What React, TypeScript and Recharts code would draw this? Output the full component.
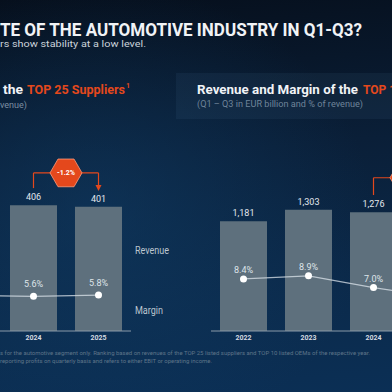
import React from 'react';
import { ComposedChart, Bar, Line, XAxis, YAxis, LabelList, ReferenceLine } from 'recharts';

// TOP 25 suppliers (2023 sits outside the visible crop)
const supplierYears = ['2023', '2024', '2025'];
const supplierRevenue = [null, 406, 401];
const supplierMargin = [5.7, 5.6, 5.8];

// TOP 10 OEMs (2025 sits outside the visible crop)
const oemYears = ['2022', '2023', '2024', '2025'];
const oemRevenue = [1181, 1303, 1276, null];
const oemMargin = [8.4, 8.9, 7.0, 5.4];

const ORANGE = '#e4481c';
const BAR = '#5e707d';
const FONT = 'Roboto, "Noto Sans", sans-serif';

const supplierData = supplierYears.map((year, i) => ({ year, revenue: supplierRevenue[i], margin: supplierMargin[i] }));
const oemData = oemYears.map((year, i) => ({ year, revenue: oemRevenue[i], margin: oemMargin[i] }));

const fmtRev = (v: any) => (v == null ? '' : Number(v).toLocaleString('en-US'));
const fmtPct = (v: any) => (v == null ? '' : `${Number(v).toFixed(1)}%`);

const supplierChange = `${(((supplierRevenue[2] as number) / (supplierRevenue[1] as number) - 1) * 100).toFixed(1)}%`;

const hexPoints = (cx: number, cy: number, r: number) => {
    const h = (r * Math.sqrt(3)) / 2;
    return [
        [cx - r, cy],
        [cx - r / 2, cy - h],
        [cx + r / 2, cy - h],
        [cx + r, cy],
        [cx + r / 2, cy + h],
        [cx - r / 2, cy + h],
    ]
        .map((p) => p.join(','))
        .join(' ');
};

// horizontal bracket line with the hexagon badge in its middle
const bracketTop = (text: string) => (p: any) => {
    const cx = (p.x1 + p.x2) / 2;
    const cy = p.y1;
    return (
        <g>
            <line x1={p.x1} y1={p.y1} x2={p.x2} y2={p.y2} stroke={ORANGE} strokeWidth={1.2} />
            <polygon points={hexPoints(cx, cy, 16)} fill={ORANGE} stroke="#ff9b78" strokeWidth={0.8} />
            {text && (
                <text x={cx} y={cy + 2.5} textAnchor="middle" fontSize={7} fontWeight={700} fill="#fff" fontFamily={FONT}>
                    {text}
                </text>
            )}
        </g>
    );
};

const arrowDown = (p: any) => (
    <g>
        <line x1={p.x1} y1={p.y1} x2={p.x2} y2={p.y2 - 4} stroke={ORANGE} strokeWidth={1.2} />
        <polygon points={`${p.x2 - 3},${p.y2 - 5} ${p.x2 + 3},${p.y2 - 5} ${p.x2},${p.y2 + 1}`} fill={ORANGE} />
    </g>
);

const plainLine = (p: any) => <line x1={p.x1} y1={p.y1} x2={p.x2} y2={p.y2} stroke={ORANGE} strokeWidth={1.2} />;

const axisProps = {
    dataKey: 'year',
    interval: 0 as const,
    tickLine: false,
    tickSize: 0,
    tickMargin: 4,
    height: 20,
    axisLine: { stroke: '#8a9aa9', strokeWidth: 1 },
    tick: { fill: '#d3dae1', fontSize: 7, fontWeight: 700, fontFamily: FONT },
};

const PairChart = ({ data, width, revMax, pctOffset, children }: any) => (
    <ComposedChart width={width} height={206} data={data} margin={{ top: 0, right: 0, bottom: 0, left: 0 }}>
        <XAxis {...axisProps} />
        <YAxis yAxisId="rev" hide domain={[0, revMax]} />
        <YAxis yAxisId="mar" hide domain={[0, 30]} orientation="right" />
        <Bar yAxisId="rev" dataKey="revenue" fill={BAR} barSize={47} isAnimationActive={false}>
            <LabelList dataKey="revenue" position="top" offset={5} formatter={fmtRev} fill="#e3e8ee" fontSize={9} fontFamily={FONT} />
        </Bar>
        <Line
            yAxisId="mar"
            dataKey="margin"
            type="linear"
            stroke="rgba(220,228,235,0.75)"
            strokeWidth={1.2}
            dot={{ r: 3.5, fill: '#ffffff', stroke: 'none' }}
            activeDot={false}
            isAnimationActive={false}
        >
            <LabelList dataKey="margin" position="top" offset={pctOffset} formatter={fmtPct} fill="#dfe5ea" fontSize={9} fontFamily={FONT} />
        </Line>
        {children}
    </ComposedChart>
);

const App = () => {
    return (
        <div
            style={{
                position: 'absolute',
                left: 0,
                top: 0,
                width: 392,
                height: 392,
                overflow: 'hidden',
                background:
                    'radial-gradient(ellipse 70% 60% at 25% 55%, rgba(16,62,104,0.55) 0%, rgba(16,62,104,0) 100%), linear-gradient(175deg, #060f1c 0%, #0a1f38 40%, #0b2a4b 75%, #0b2f55 100%)',
            }}
        >
            <svg width={392} height={392} style={{ position: 'absolute', left: 0, top: 0 }} fontFamily={FONT}>
                <rect x={176} y={73} width={216} height={46} fill="rgba(120,165,210,0.07)" />
                <text x={0} y={36} fontSize={18.5} fontWeight={700} fill="#f1f3f6" textLength={362} lengthAdjust="spacingAndGlyphs">
                    TE OF THE AUTOMOTIVE INDUSTRY IN Q1-Q3?
                </text>
                <text x={0} y={47} fontSize={9.5} fill="#cbd3db" textLength={146} lengthAdjust="spacingAndGlyphs">
                    rs show stability at a low level.
                </text>

                <text x={3} y={94} fontSize={12} fontWeight={700} fill="#f1f3f6" textLength={20} lengthAdjust="spacingAndGlyphs">
                    the
                </text>
                <text x={27} y={94} fontSize={12} fontWeight={700} fill={ORANGE} textLength={98} lengthAdjust="spacingAndGlyphs">
                    TOP 25 Suppliers
                </text>
                <text x={126} y={88} fontSize={7} fontWeight={700} fill={ORANGE}>
                    1
                </text>
                <text x={0} y={107.5} fontSize={9} fill="#7c8fa2" textLength={27} lengthAdjust="spacingAndGlyphs">
                    venue)
                </text>

                <text x={197} y={94} fontSize={12} fontWeight={700} fill="#f1f3f6" textLength={161} lengthAdjust="spacingAndGlyphs">
                    Revenue and Margin of the
                </text>
                <text x={363} y={94} fontSize={12} fontWeight={700} fill={ORANGE}>
                    TOP 10 OEMs
                </text>
                <text x={197} y={107} fontSize={9} fill="#6f849a" textLength={166} lengthAdjust="spacingAndGlyphs">
                    (Q1 – Q3 in EUR billion and % of revenue)
                </text>

                <text x={135} y={253.5} fontSize={10} fill="#bcc6cf" textLength={34} lengthAdjust="spacingAndGlyphs">
                    Revenue
                </text>
                <text x={135} y={314} fontSize={10} fill="#bcc6cf" textLength={28} lengthAdjust="spacingAndGlyphs">
                    Margin
                </text>

                <text x={0} y={355} fontSize={5.5} fill="#5f7589" textLength={370} lengthAdjust="spacingAndGlyphs">
                    s for the automotive segment only. Ranking based on revenues of the TOP 25 listed suppliers and TOP 10 listed OEMs of the respective year.
                </text>
                <text x={0} y={363} fontSize={5.5} fill="#5f7589" textLength={212} lengthAdjust="spacingAndGlyphs">
                    reporting profits on quarterly basis and refers to either EBIT or operating income.
                </text>
            </svg>

            <div style={{ position: 'absolute', left: -64, top: 145 }}>
                <PairChart data={supplierData} width={195} revMax={600} pctOffset={9}>
                    <ReferenceLine yAxisId="rev" segment={[{ x: '2024', y: 510 }, { x: '2024', y: 461 }]} shape={plainLine} />
                    <ReferenceLine yAxisId="rev" segment={[{ x: '2025', y: 510 }, { x: '2025', y: 455 }]} shape={arrowDown} />
                    <ReferenceLine yAxisId="rev" segment={[{ x: '2024', y: 510 }, { x: '2025', y: 510 }]} shape={bracketTop(supplierChange)} />
                </PairChart>
            </div>

            <div style={{ position: 'absolute', left: 211, top: 145 }}>
                <PairChart data={oemData} width={260} revMax={2000} pctOffset={6}>
                    <ReferenceLine yAxisId="rev" segment={[{ x: '2024', y: 1648 }, { x: '2024', y: 1462 }]} shape={plainLine} />
                    <ReferenceLine yAxisId="rev" segment={[{ x: '2024', y: 1648 }, { x: '2025', y: 1648 }]} shape={bracketTop('')} />
                </PairChart>
            </div>
        </div>
    );
};

export default App;
